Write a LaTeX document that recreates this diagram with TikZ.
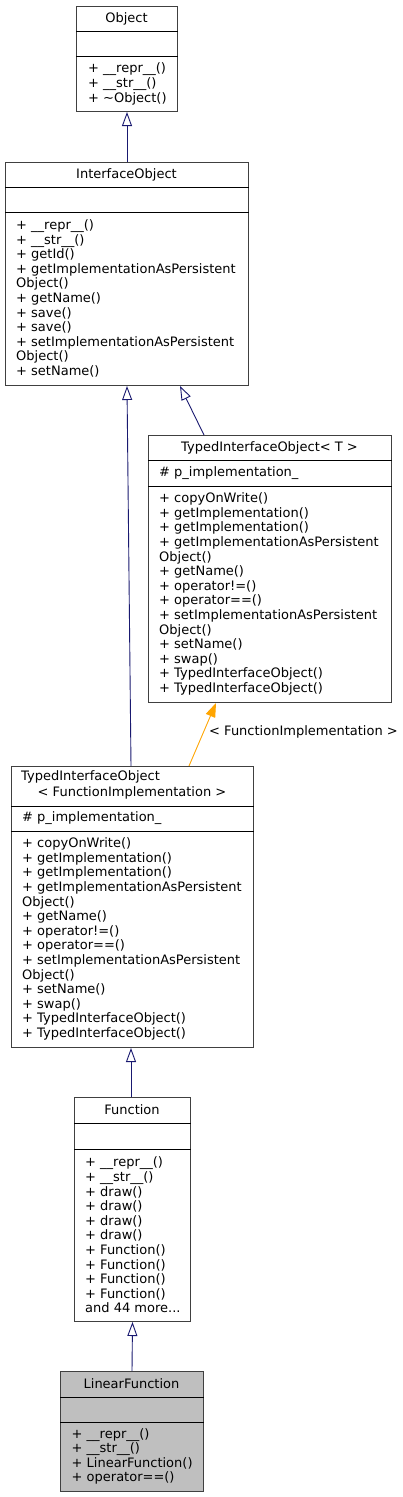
\documentclass[tikz,border=0pt]{standalone}
\usepackage{fontspec}
\setmainfont{DejaVu Sans}
\usetikzlibrary{arrows.meta,calc}
\definecolor{edgeblue}{HTML}{191970}
\definecolor{edgeorange}{HTML}{FFA500}
\definecolor{lfgray}{HTML}{BFBFBF}
\definecolor{boxline}{HTML}{404040}
\begin{document}
\begin{tikzpicture}[x=1pt,y=-1pt,
  classbox/.style={draw=boxline, line width=1pt, fill=white, inner sep=0pt, anchor=north west},
  divider/.style={draw=black, line width=1pt},
  txt/.style={inner sep=0pt, align=left, font=\fontsize{13}{14.6}\selectfont},
  ttl/.style={txt, anchor=center},
  mem/.style={txt, anchor=west},
  inh/.style={draw=edgeblue, line width=0.9pt, -{Triangle[open, length=14pt, width=10pt, fill=white]}},
  tmpl/.style={draw=edgeorange, line width=0.9pt, -{Triangle[length=14pt, width=10pt]}}]
\useasboundingbox (0,0) rectangle (403,1497);
\fill[white] (0,0) rectangle (403,1497);

% Object
\node[classbox, minimum width=101pt, minimum height=105pt] (obj) at (76,6) {};
\draw[divider] ($(obj.north west)+(0,25.7)$) -- ($(obj.north east)+(0,25.7)$);
\draw[divider] ($(obj.north west)+(0,50.7)$) -- ($(obj.north east)+(0,50.7)$);
\node[ttl] (objt) at (126.5,19) {Object};
\node[mem] (objm) at (88,84) {+ \_\_repr\_\_()\\+ \_\_str\_\_()\\+ \textasciitilde Object()};

% InterfaceObject
\node[classbox, minimum width=243pt, minimum height=223pt] (io) at (5,162) {};
\draw[divider] ($(io.north west)+(0,25)$) -- ($(io.north east)+(0,25)$);
\draw[divider] ($(io.north west)+(0,50)$) -- ($(io.north east)+(0,50)$);
\node[ttl] (iot) at (126.5,174.5) {InterfaceObject};
\node[mem] (iom) at (16,298.5) {+ \_\_repr\_\_()\\+ \_\_str\_\_()\\+ getId()\\+ getImplementationAsPersistent\\Object()\\+ getName()\\+ save()\\+ save()\\+ setImplementationAsPersistent\\Object()\\+ setName()};

% TypedInterfaceObject< T >
\node[classbox, minimum width=243pt, minimum height=267pt] (tiot) at (148,435) {};
\draw[divider] ($(tiot.north west)+(0,25)$) -- ($(tiot.north east)+(0,25)$);
\draw[divider] ($(tiot.north west)+(0,51)$) -- ($(tiot.north east)+(0,51)$);
\node[ttl] (tiott) at (269.5,447.5) {TypedInterfaceObject< T >};
\node[mem] (tiota) at (159,473) {\# p\_implementation\_};
\node[mem] (tiotm) at (159,594) {+ copyOnWrite()\\+ getImplementation()\\+ getImplementation()\\+ getImplementationAsPersistent\\Object()\\+ getName()\\+ operator!=()\\+ operator==()\\+ setImplementationAsPersistent\\Object()\\+ setName()\\+ swap()\\+ TypedInterfaceObject()\\+ TypedInterfaceObject()};

% TypedInterfaceObject< FunctionImplementation >
\node[classbox, minimum width=242pt, minimum height=281pt] (tiofi) at (11,766) {};
\draw[divider] ($(tiofi.north west)+(0,40)$) -- ($(tiofi.north east)+(0,40)$);
\draw[divider] ($(tiofi.north west)+(0,65)$) -- ($(tiofi.north east)+(0,65)$);
\node[mem] (tiofit) at (21,777) {TypedInterfaceObject};
\node[ttl] (tiofit2) at (132,793) {< FunctionImplementation >};
\node[mem] (tiofia) at (22,818.5) {\# p\_implementation\_};
\node[mem] (tiofim) at (22,939) {+ copyOnWrite()\\+ getImplementation()\\+ getImplementation()\\+ getImplementationAsPersistent\\Object()\\+ getName()\\+ operator!=()\\+ operator==()\\+ setImplementationAsPersistent\\Object()\\+ setName()\\+ swap()\\+ TypedInterfaceObject()\\+ TypedInterfaceObject()};

% Function
\node[classbox, minimum width=116pt, minimum height=224pt] (fn) at (74,1097) {};
\draw[divider] ($(fn.north west)+(0,26)$) -- ($(fn.north east)+(0,26)$);
\draw[divider] ($(fn.north west)+(0,52)$) -- ($(fn.north east)+(0,52)$);
\node[ttl] (fnt) at (132,1110) {Function};
\node[mem] (fnm) at (85,1235) {+ \_\_repr\_\_()\\+ \_\_str\_\_()\\+ draw()\\+ draw()\\+ draw()\\+ draw()\\+ Function()\\+ Function()\\+ Function()\\+ Function()\\and 44 more...};

% LinearFunction
\node[classbox, fill=lfgray, minimum width=143pt, minimum height=120pt] (lf) at (60,1371) {};
\draw[divider] ($(lf.north west)+(0,26)$) -- ($(lf.north east)+(0,26)$);
\draw[divider] ($(lf.north west)+(0,51)$) -- ($(lf.north east)+(0,51)$);
\node[ttl] (lft) at (131.5,1384) {LinearFunction};
\node[mem] (lfm) at (71.5,1456.5) {+ \_\_repr\_\_()\\+ \_\_str\_\_()\\+ LinearFunction()\\+ operator==()};

% connectors
\draw[inh] (io.north) -- (obj.south);
\draw[inh] ($(tiot.north west)+(56,0)$) -- ($(io.south west)+(175,0)$);
\draw[inh] ($(tiofi.north west)+(120,0)$) -- ($(io.south west)+(122,0)$);
\draw[tmpl] ($(tiofi.north west)+(178,0)$) -- ($(tiot.south west)+(68,0)$);
\node[mem] (lbl) at (209,732) {< FunctionImplementation >};
\draw[inh] ($(fn.north west)+(57,0)$) -- ($(tiofi.south west)+(120,0)$);
\draw[inh] (lf.north) -- (fn.south);
\end{tikzpicture}
\end{document}
